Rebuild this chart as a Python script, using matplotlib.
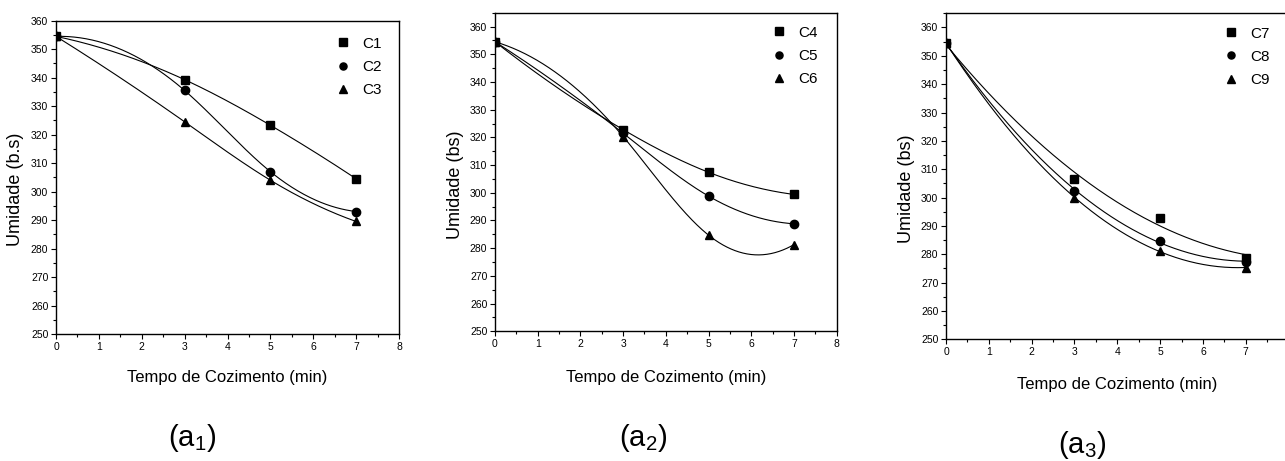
import numpy as np
import matplotlib
matplotlib.use("Agg")
import matplotlib.pyplot as plt
from matplotlib.ticker import MultipleLocator

plt.rcParams['font.family'] = ['Liberation Sans', 'DejaVu Sans']
plt.rcParams['mathtext.fontset'] = 'custom'
plt.rcParams['mathtext.rm'] = 'Liberation Sans'

tempo = [0, 3, 5, 7]

# painel a1
c1 = [354.5, 339.3, 323.3, 304.5]
c2 = [354.5, 335.5, 307.0, 293.0]
c3 = [354.5, 324.5, 304.0, 289.5]
# painel a2
c4 = [354.5, 322.8, 307.4, 299.4]
c5 = [354.5, 321.5, 298.8, 288.8]
c6 = [354.5, 320.3, 284.7, 281.3]
# painel a3
c7 = [354.5, 306.5, 292.9, 278.8]
c8 = [354.5, 302.3, 284.7, 277.3]
c9 = [354.5, 300.0, 281.0, 275.3]

paineis = [
    (["C1", "C2", "C3"], [c1, c2, c3], "Umidade (b.s)", "spline", "(a$_{\\mathregular{1}}$)"),
    (["C4", "C5", "C6"], [c4, c5, c6], "Umidade (bs)", "spline", "(a$_{\\mathregular{2}}$)"),
    (["C7", "C8", "C9"], [c7, c8, c9], "Umidade (bs)", "quad", "(a$_{\\mathregular{3}}$)"),
]


def spline(x, y, xs):
    # spline cubica com extremidades parabolicas (M0 = M1, Mn = Mn-1)
    x = np.asarray(x, float)
    y = np.asarray(y, float)
    n = len(x)
    h = np.diff(x)
    A = np.zeros((n, n))
    rhs = np.zeros(n)
    A[0, 0], A[0, 1] = 1, -1
    A[-1, -1], A[-1, -2] = 1, -1
    for i in range(1, n - 1):
        A[i, i - 1] = h[i - 1]
        A[i, i] = 2 * (h[i - 1] + h[i])
        A[i, i + 1] = h[i]
        rhs[i] = 6 * ((y[i + 1] - y[i]) / h[i] - (y[i] - y[i - 1]) / h[i - 1])
    M = np.linalg.solve(A, rhs)
    k = np.clip(np.searchsorted(x, xs) - 1, 0, n - 2)
    x0, x1, hk = x[k], x[k + 1], h[k]
    return (M[k] * (x1 - xs) ** 3 / (6 * hk) + M[k + 1] * (xs - x0) ** 3 / (6 * hk)
            + (y[k] / hk - M[k] * hk / 6) * (x1 - xs)
            + (y[k + 1] / hk - M[k + 1] * hk / 6) * (xs - x0))


W, H = 1285, 461
fig = plt.figure(figsize=(W / 100, H / 100), dpi=100)

# [left, top, right, bottom] em pixels
caixas = [(56, 20.7, 399, 334), (495, 12.7, 836.7, 331.3), (946, 13.3, 1288.6, 339.3)]
ylims = [(250, 360), (250, 365), (250, 365)]
legx = [0.80, 0.795, 0.795]
legy = [0.968, 0.978, 0.978]
xlab = [(227, 377), (666, 377), (1117, 384)]
ylab = [(15.5, 189), (455, 185), (906, 189)]
sub_pos = [(192, 438), (643, 438), (1082, 445)]

marcadores = ["s", "o", "^"]

for i, (nomes, series, ylabel, ajuste, rotulo) in enumerate(paineis):
    l, t, r, b = caixas[i]
    ax = fig.add_axes([l / W, 1 - b / H, (r - l) / W, (b - t) / H])
    xs = np.linspace(0, 7, 300)
    for nome, vals, m in zip(nomes, series, marcadores):
        if ajuste == "spline":
            ys = spline(tempo, vals, xs)
        else:
            ys = np.polyval(np.polyfit(tempo, vals, 2), xs)
        ax.plot(xs, ys, color="black", lw=0.8)
        ax.plot(tempo, vals, linestyle="none", marker=m, color="black",
                markersize=6, label=nome)
    ax.set_xlim(0, 8)
    ax.set_ylim(*ylims[i])
    ax.set_xticks(range(9))
    if i == 2:
        ax.set_xticklabels([str(v) for v in range(8)] + [""])
    ax.xaxis.set_minor_locator(MultipleLocator(0.5))
    ax.yaxis.set_major_locator(MultipleLocator(10))
    ax.yaxis.set_minor_locator(MultipleLocator(5))
    ax.tick_params(which="both", direction="out", top=False, right=False,
                   labelsize=7.5, width=0.8)
    ax.tick_params(which="major", length=3.5, pad=2)
    ax.tick_params(which="minor", length=2)
    for s in ax.spines.values():
        s.set_linewidth(1.0)
    ax.legend(loc="upper left", bbox_to_anchor=(legx[i], legy[i]), frameon=False,
              fontsize=11, handlelength=0.8, handletextpad=0.9,
              labelspacing=0.6, borderaxespad=0, markerscale=0.85)
    fig.text(xlab[i][0] / W, 1 - xlab[i][1] / H, "Tempo de Cozimento (min)",
             ha="center", va="center", fontsize=12)
    fig.text(ylab[i][0] / W, 1 - ylab[i][1] / H, ylabel, rotation=90,
             ha="center", va="center", fontsize=13)
    fig.text(sub_pos[i][0] / W, 1 - sub_pos[i][1] / H, rotulo, ha="center",
             va="center", fontsize=21)

fig.savefig("out.png", dpi=100)
plt.close(fig)
